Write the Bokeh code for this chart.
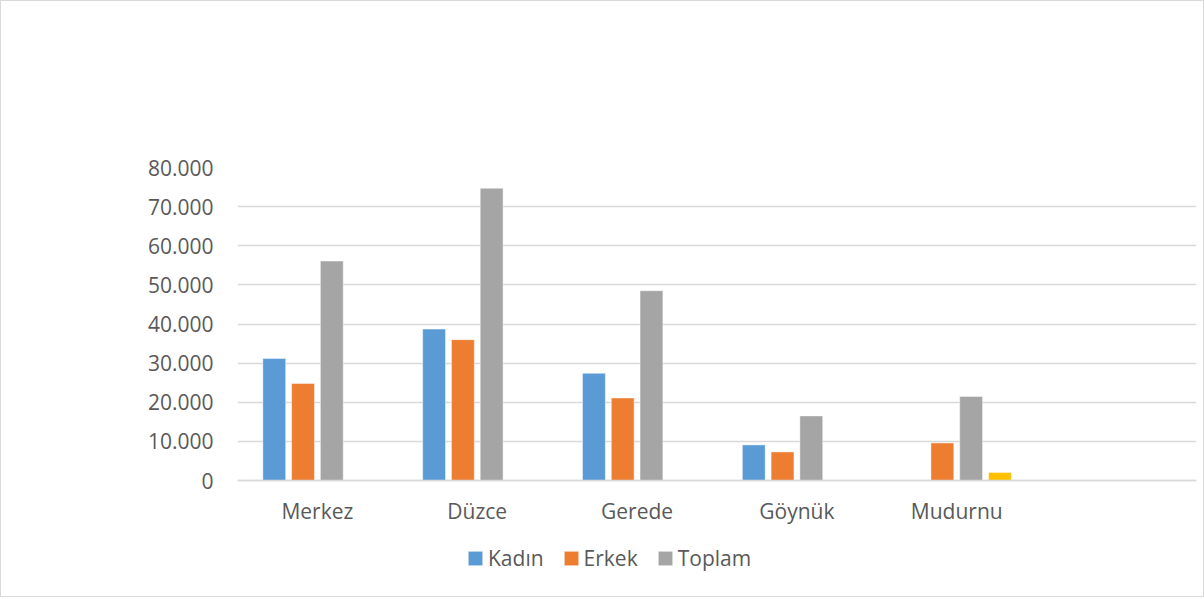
from bokeh.plotting import figure
from bokeh.models import ColumnDataSource, FactorRange, FixedTicker, Legend, LegendItem, Range1d
from bokeh.transform import dodge
from bokeh.embed import file_html
from bokeh.resources import INLINE

categories = ["Merkez", "Düzce", "Gerede", "Göynük", "Mudurnu"]
kadin = [31200, 38700, 27400, 9100, None]
erkek = [24800, 36000, 21100, 7300, 9600]
toplam = [56100, 74700, 48500, 16500, 21500]
dorduncu = [None, None, None, None, 2050]
y_ticks = [0, 10000, 20000, 30000, 40000, 50000, 60000, 70000, 80000]
y_tick_labels = ["0", "10.000", "20.000", "30.000", "40.000", "50.000", "60.000", "70.000", "80.000"]

FONT = "Open Sans"
TXT = "#595959"
GRID = "#D9D9D9"

# layout (screen px): frame top 167, value 0 at 480, frame bottom 577
FRAME_TOP, ZERO_Y, FRAME_BOTTOM = 167, 480, 577
px_per_unit = (ZERO_Y - FRAME_TOP) / 80000
y_start = -(FRAME_BOTTOM - ZERO_Y) / px_per_unit

factors = categories + [" "]
p = figure(x_range=FactorRange(*factors), y_range=Range1d(y_start, 80000),
           width=1204, height=597, output_backend="svg", toolbar_location=None,
           min_border_left=237, min_border_right=8, min_border_top=167, min_border_bottom=20)
p.outline_line_color = None
p.background_fill_color = None
p.border_fill_color = None
p.styles = {"box-shadow": "inset 0 0 0 1px #D9D9D9", "background-color": "white"}

def src(vals):
    xs = [c for c, v in zip(categories, vals) if v is not None]
    ys = [v for v in vals if v is not None]
    return ColumnDataSource(dict(x=xs, y=ys))

series = [
    ("Kadın", kadin, "#5B9BD5", -0.27),
    ("Erkek", erkek, "#ED7D31", -0.09),
    ("Toplam", toplam, "#A5A5A5", 0.09),
    (None, dorduncu, "#FFC000", 0.27),
]
items = []
for name, vals, col, off in series:
    r = p.vbar(x=dodge("x", off, range=p.x_range), top="y", width=0.143, source=src(vals),
               fill_color=col, line_color="white", line_alpha=0.45, line_width=1)
    if name:
        items.append(LegendItem(label=name, renderers=[r]))

p.xgrid.grid_line_color = None
p.ygrid.grid_line_color = GRID
p.ygrid.grid_line_width = 1.5
p.yaxis.ticker = FixedTicker(ticks=y_ticks)
p.yaxis.major_label_overrides = {t: l for t, l in zip(y_ticks, y_tick_labels)}
p.yaxis.axis_line_color = None
p.yaxis.major_tick_line_color = None
p.yaxis.minor_tick_line_color = None
p.yaxis.major_label_standoff = 18
p.yaxis.major_label_text_font = FONT
p.yaxis.major_label_text_font_size = "21px"
p.yaxis.major_label_text_color = TXT

p.xaxis.fixed_location = 0
p.xaxis.axis_line_color = GRID
p.xaxis.axis_line_width = 1.5
p.xaxis.major_tick_line_color = None
p.xaxis.minor_tick_line_color = None
p.xaxis.major_label_standoff = 10
p.xaxis.major_label_text_font = FONT
p.xaxis.major_label_text_font_size = "21px"
p.xaxis.major_label_text_color = TXT

legend = Legend(items=items, orientation="horizontal", location=(229, FRAME_BOTTOM - 572),
                padding=0, margin=0, spacing=18, label_standoff=4,
                glyph_width=18, glyph_height=18,
                label_text_font=FONT, label_text_font_size="21px", label_text_color=TXT,
                border_line_color=None, background_fill_alpha=0)
p.add_layout(legend, "center")

open("out.html", "w").write(file_html(p, INLINE))
